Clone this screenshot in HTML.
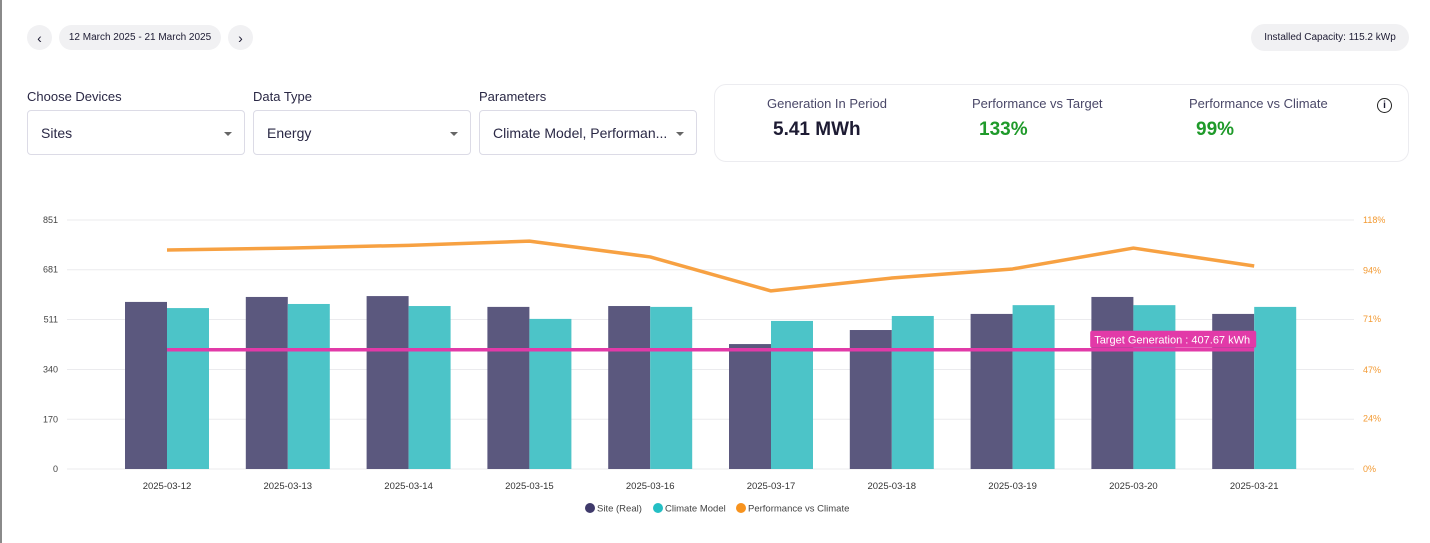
<!DOCTYPE html>
<html><head><meta charset="utf-8">
<style>
body{margin:0;width:1430px;height:543px;background:#fff;font-family:"Liberation Sans",sans-serif;position:relative;overflow:hidden;color:#1d1b33}
.abs{position:absolute}
.pill{position:absolute;background:#f1f1f3;border-radius:14px;font-size:10px;display:flex;align-items:center;justify-content:center}
.lbl{position:absolute;font-size:13px;color:#2a2845}
.sel{position:absolute;height:45px;border:1px solid #dcdbe6;border-radius:4px;box-sizing:border-box;font-size:14px;display:flex;align-items:center;padding-left:13px;color:#2a2845}
.sel .car{position:absolute;right:12px;top:21px;border-left:4px solid transparent;border-right:4px solid transparent;border-top:4px solid #666}
.kt{position:absolute;font-size:13px;color:#4a4868}
.kv{position:absolute;font-size:19px;font-weight:bold}
</style></head><body>
<div class="abs" style="left:0;top:0;width:2px;height:543px;background:#8a8a8a"></div>
<div class="pill" style="left:27px;top:25px;width:25px;height:25px;border-radius:50%;font-size:14px">‹</div>
<div class="pill" style="left:59px;top:25px;width:162px;height:25px">12 March 2025 - 21 March 2025</div>
<div class="pill" style="left:228px;top:25px;width:25px;height:25px;border-radius:50%;font-size:14px">›</div>
<div class="pill" style="left:1251px;top:24px;width:158px;height:27px">Installed Capacity: 115.2 kWp</div>

<div class="lbl" style="left:27px;top:89px">Choose Devices</div>
<div class="lbl" style="left:253px;top:89px">Data Type</div>
<div class="lbl" style="left:479px;top:89px">Parameters</div>
<div class="sel" style="left:27px;top:110px;width:218px">Sites<span class="car"></span></div>
<div class="sel" style="left:253px;top:110px;width:218px">Energy<span class="car"></span></div>
<div class="sel" style="left:479px;top:110px;width:218px">Climate Model, Performan...<span class="car"></span></div>

<div class="abs" style="left:714px;top:84px;width:695px;height:78px;border:1px solid #ececf0;border-radius:12px;box-sizing:border-box"></div>
<div class="kt" style="left:767px;top:96px">Generation In Period</div>
<div class="kv" style="left:773px;top:119px;color:#1d1b33">5.41 MWh</div>
<div class="kt" style="left:972px;top:96px">Performance vs Target</div>
<div class="kv" style="left:979px;top:119px;color:#1f9a2a">133%</div>
<div class="kt" style="left:1189px;top:96px">Performance vs Climate</div>
<div class="kv" style="left:1196px;top:119px;color:#1f9a2a">99%</div>
<div class="abs" style="left:1377px;top:98px;width:13px;height:13px;border:1.5px solid #222;border-radius:50%;font-size:10px;font-weight:bold;text-align:center;line-height:13px">i</div>

<svg class="abs" style="left:0;top:0" width="1430" height="543" id="chart"></svg>
<script>
const categories=["2025-03-12","2025-03-13","2025-03-14","2025-03-15","2025-03-16","2025-03-17","2025-03-18","2025-03-19","2025-03-20","2025-03-21"];
const siteReal=[571,588,591,554,557,427,475,530,588,530];
const climateModel=[550,564,557,513,554,506,523,560,560,554];
const perfVsClimate=[103.8,104.7,106,108,100.5,84.4,90.5,94.8,104.7,96.2];
const targetGeneration=407.67;
const leftTicks=[0,170,340,511,681,851];
const rightTicks=[0,24,47,71,94,118];
const leftMax=851, rightMax=118;
const svg=document.getElementById('chart');
const NS="http://www.w3.org/2000/svg";
const y0=469,y1=220,xL=67,xR=1354;
const yL=v=>y0-(v/leftMax)*(y0-y1);
const yR=v=>y0-(v/rightMax)*(y0-y1);
const xC=i=>167+i*120.8;
const bw=42;
function mk(tag,attrs){const e=document.createElementNS(NS,tag);for(const k in attrs)e.setAttribute(k,attrs[k]);svg.appendChild(e);return e;}
leftTicks.forEach((t,i)=>{
  const g=mk('line',{x1:xL,x2:xR,y1:yL(t),y2:yL(t),stroke:'#ebebee','stroke-width':1});
  
  
  const tx=mk('text',{x:58,y:yL(t)+3,'text-anchor':'end','font-size':9,fill:'#444','font-family':'Liberation Sans'});
  tx.textContent=t;
  
  
});
rightTicks.forEach(t=>{
  const tx=mk('text',{x:1363,y:yR(t)+3,'font-size':9,fill:'#f39a32','font-family':'Liberation Sans'});
  tx.textContent=t+'%';
  
  
});
categories.forEach((c,i)=>{
  const a=mk('rect',{x:xC(i)-bw,y:yL(siteReal[i]),width:bw,height:y0-yL(siteReal[i]),fill:'#5b587e'});
  
  
  const b=mk('rect',{x:xC(i),y:yL(climateModel[i]),width:bw,height:y0-yL(climateModel[i]),fill:'#4cc4c8'});
  
  
  const tx=mk('text',{x:xC(i),y:489,'text-anchor':'middle','font-size':9.5,fill:'#333','font-family':'Liberation Sans'});
  tx.textContent=c;
  
  
});
const tl=mk('line',{x1:xC(0),x2:xC(categories.length-1),y1:yL(targetGeneration),y2:yL(targetGeneration),stroke:'#e23aa8','stroke-width':3.5});


const pl=mk('polyline',{points:perfVsClimate.map((v,i)=>xC(i)+','+yR(v)).join(' '),fill:'none',stroke:'#f7a142','stroke-width':3.5,'stroke-linejoin':'round'});


const lx=xC(categories.length-1)+2, ly=yL(targetGeneration);
const lb=mk('rect',{x:lx-166,y:ly-19,width:166,height:17,rx:2,fill:'#e23aa8'});


const lt=mk('text',{x:lx-162,y:ly-6,'font-size':11,fill:'#fff','font-family':'Liberation Sans'});
lt.textContent='Target Generation : '+targetGeneration+' kWh';


const leg=[["Site (Real)","#3f3a6b",590],["Climate Model","#24bfc4",658],["Performance vs Climate","#f7931e",741]];
leg.forEach(([n,c,x])=>{
  const d=mk('circle',{cx:x,cy:508,r:5,fill:c});
  
  
  const t=mk('text',{x:x+7,y:511.5,'font-size':9.5,fill:'#444','font-family':'Liberation Sans'});
  t.textContent=n;
  
  
});
</script>
</body></html>
